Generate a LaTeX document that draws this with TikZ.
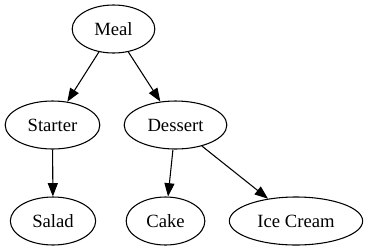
\documentclass[tikz,border=0pt]{standalone}
\usepackage{fontspec}
\setmainfont{Liberation Serif}
\usetikzlibrary{shapes.geometric,arrows.meta}
\begin{document}
\begin{tikzpicture}[x=0.75pt,y=-0.75pt,
  item/.style={draw,ellipse,line width=0.8pt,inner sep=0pt,
    minimum height=36pt,font=\fontsize{14pt}{16pt}\selectfont},
  link/.style={line width=0.8pt,-{Triangle[length=10pt,width=7.5pt]}}]
  \useasboundingbox (0,0) rectangle (368,251);
  \node[item,minimum width=62pt] (meal) at (113.5,29) {Meal};
  \node[item,minimum width=71pt] (starter) at (52.5,125) {Starter};
  \node[item,minimum width=77pt] (dessert) at (175.5,125) {Dessert};
  \node[item,minimum width=64pt] (salad) at (53,221) {Salad};
  \node[item,minimum width=59pt] (cake) at (165.5,221) {Cake};
  \node[item,minimum width=100pt] (icecream) at (296,221) {Ice Cream};
  \draw[link] (meal) -- (starter);
  \draw[link] (meal) -- (dessert);
  \draw[link] (starter) -- (salad);
  \draw[link] (dessert) -- (cake);
  \draw[link] (dessert) -- (icecream);
\end{tikzpicture}
\end{document}
